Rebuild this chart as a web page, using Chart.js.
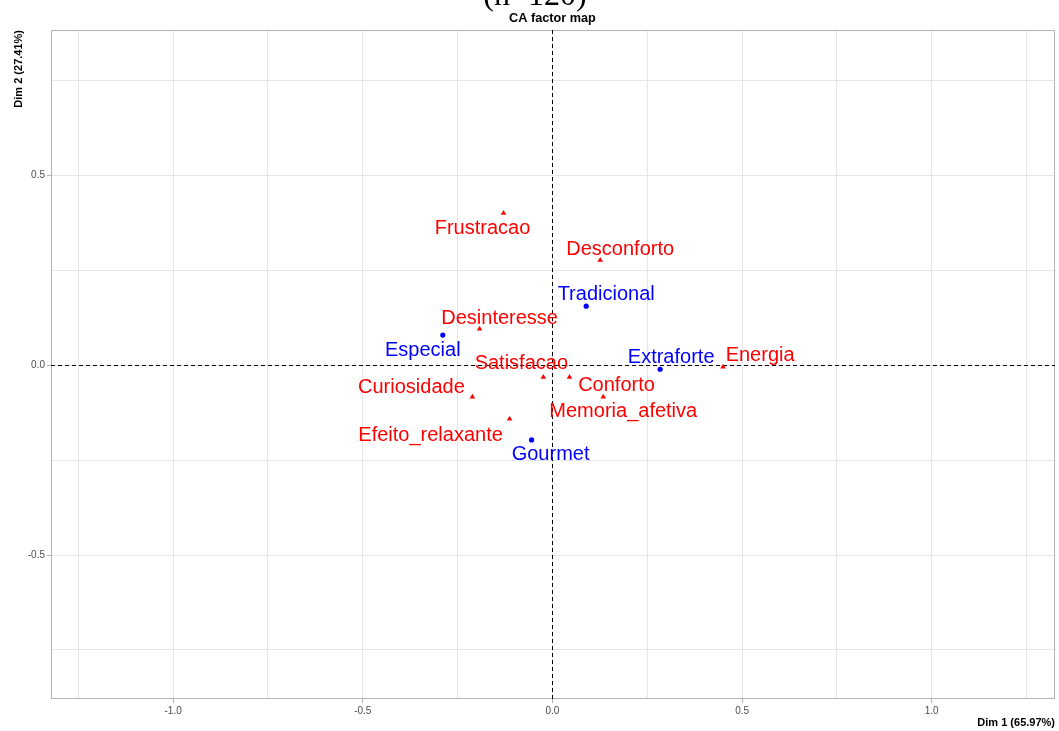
<!DOCTYPE html>
<html>
<head>
<meta charset="utf-8">
<script src="https://cdn.jsdelivr.net/npm/chart.js@4/dist/chart.umd.min.js"></script>
<style>
  html, body { margin: 0; padding: 0; background: #ffffff; overflow: hidden; }
  canvas { display: block; }
</style>
</head>
<body>
<canvas id="ca" width="1059" height="731"></canvas>
<script>
// Row categories (coffee types) on the first two CA dimensions
const rowNames = ['Especial', 'Extraforte', 'Gourmet', 'Tradicional'];
const rowDim1 = [-0.289, 0.284, -0.055, 0.089];
const rowDim2 = [0.079, -0.011, -0.197, 0.155];

// Column categories (feelings) on the first two CA dimensions
const colNames = ['Curiosidade', 'Conforto', 'Desconforto', 'Desinteresse', 'Efeito_relaxante',
                  'Energia', 'Frustracao', 'Memoria_afetiva', 'Satisfacao'];
const colDim1 = [-0.211, 0.045, 0.126, -0.192, -0.113, 0.450, -0.129, 0.134, -0.024];
const colDim2 = [-0.084, -0.032, 0.276, 0.095, -0.142, -0.005, 0.400, -0.084, -0.032];

// Axis ticks and titles
const tickValues = [-1.25, -1.0, -0.75, -0.5, -0.25, 0, 0.25, 0.5, 0.75, 1.0, 1.25];
const xTitle = 'Dim 1 (65.97%)';
const yTitle = 'Dim 2 (27.41%)';
const plotTitle = 'CA factor map';
const sampleNote = '(n=120)';

// Repelled label placement: pixel offset of each label centre from its point
const labelOffset = {
  Especial: [-20, 15], Extraforte: [11, -12], Gourmet: [19, 15], Tradicional: [20, -12],
  Curiosidade: [-61, -9], Conforto: [47, 8], Desconforto: [20, -11], Desinteresse: [20, -10],
  Efeito_relaxante: [-79, 16], Energia: [37, -11], Frustracao: [-21, 15],
  Memoria_afetiva: [20, 15], Satisfacao: [-22, -14]
};

const FONT = '"Liberation Sans", Arial, Helvetica, sans-serif';
const BLUE = '#0000FF';
const RED = '#FF0000';

const rowPoints = rowNames.map((n, i) => ({ x: rowDim1[i], y: rowDim2[i], name: n }));
const colPoints = colNames.map((n, i) => ({ x: colDim1[i], y: colDim2[i], name: n }));

const isMajor = v => Math.abs(v * 2 - Math.round(v * 2)) < 1e-9;

function axis(min, max) {
  return {
    type: 'linear',
    min: min,
    max: max,
    afterBuildTicks: s => {
      s.ticks = tickValues.filter(v => v >= min && v <= max).map(v => ({ value: v }));
    },
    grid: {
      color: '#e6e6e6',
      lineWidth: 1,
      tickLength: 4,
      tickColor: c => (c.tick && isMajor(c.tick.value)) ? '#b3b3b3' : 'rgba(0,0,0,0)'
    },
    border: { display: false },
    ticks: {
      autoSkip: false,
      maxRotation: 0,
      padding: 2,
      color: '#4d4d4d',
      font: { family: FONT, size: 10 },
      callback: v => isMajor(v) ? Number(v).toFixed(1) : ''
    }
  };
}

const decorations = {
  id: 'decorations',
  beforeDatasetsDraw(chart) {
    const { ctx, chartArea: a, scales: { x, y } } = chart;
    ctx.save();
    // panel border
    ctx.strokeStyle = '#b3b3b3';
    ctx.lineWidth = 1;
    ctx.strokeRect(a.left + 0.5, a.top + 0.5, a.right - a.left - 1, a.bottom - a.top - 1);
    // dashed reference lines through the origin
    ctx.strokeStyle = '#000000';
    ctx.setLineDash([4, 3]);
    const x0 = Math.round(x.getPixelForValue(0)) + 0.5;
    const y0 = Math.round(y.getPixelForValue(0)) + 0.5;
    ctx.beginPath();
    ctx.moveTo(x0, a.top); ctx.lineTo(x0, a.bottom);
    ctx.moveTo(a.left, y0); ctx.lineTo(a.right, y0);
    ctx.stroke();
    ctx.restore();
  },
  afterDatasetsDraw(chart) {
    const { ctx } = chart;
    ctx.save();
    ctx.font = '20px ' + FONT;
    ctx.textAlign = 'center';
    ctx.textBaseline = 'middle';
    chart.data.datasets.forEach((ds, di) => {
      const meta = chart.getDatasetMeta(di);
      ctx.fillStyle = ds.labelColor;
      meta.data.forEach((el, i) => {
        const name = ds.data[i].name;
        const off = labelOffset[name] || [0, -14];
        ctx.fillText(name, el.x + off[0], el.y + off[1]);
      });
    });
    ctx.restore();
  },
  afterDraw(chart) {
    const { ctx, chartArea: a, scales: { x } } = chart;
    ctx.save();
    ctx.fillStyle = '#000000';
    // study note above the title
    ctx.font = '32px "Liberation Serif", "Times New Roman", serif';
    ctx.textAlign = 'center';
    ctx.textBaseline = 'alphabetic';
    ctx.fillText(sampleNote, 535, 5);
    // plot title
    ctx.font = 'bold 12.7px ' + FONT;
    ctx.textBaseline = 'middle';
    ctx.fillText(plotTitle, x.getPixelForValue(0), 18);
    // x axis title, right aligned
    ctx.font = 'bold 11px ' + FONT;
    ctx.textAlign = 'right';
    ctx.fillText(xTitle, a.right, 723);
    // y axis title, rotated and aligned to the panel top
    ctx.translate(19, a.top);
    ctx.rotate(-Math.PI / 2);
    ctx.textAlign = 'right';
    ctx.fillText(yTitle, 0, 0);
    ctx.restore();
  }
};

new Chart(document.getElementById('ca'), {
  type: 'scatter',
  data: {
    datasets: [
      {
        label: 'Rows',
        data: rowPoints,
        pointStyle: 'circle',
        pointRadius: 2.6,
        backgroundColor: BLUE,
        borderColor: BLUE,
        borderWidth: 0,
        labelColor: BLUE
      },
      {
        label: 'Columns',
        data: colPoints,
        pointStyle: 'triangle',
        pointRadius: 3.2,
        backgroundColor: RED,
        borderColor: RED,
        borderWidth: 0,
        labelColor: RED
      }
    ]
  },
  options: {
    responsive: false,
    animation: false,
    devicePixelRatio: 1,
    layout: { padding: { left: 0, right: 3, top: 30, bottom: 0 } },
    plugins: { legend: { display: false }, tooltip: { enabled: false }, title: { display: false } },
    scales: {
      x: Object.assign(axis(-1.322, 1.325), {
        afterFit: s => { s.height = 32; }
      }),
      y: Object.assign(axis(-0.879, 0.882), {
        afterFit: s => { s.width = 51; }
      })
    }
  },
  plugins: [decorations]
});
</script>
</body>
</html>
